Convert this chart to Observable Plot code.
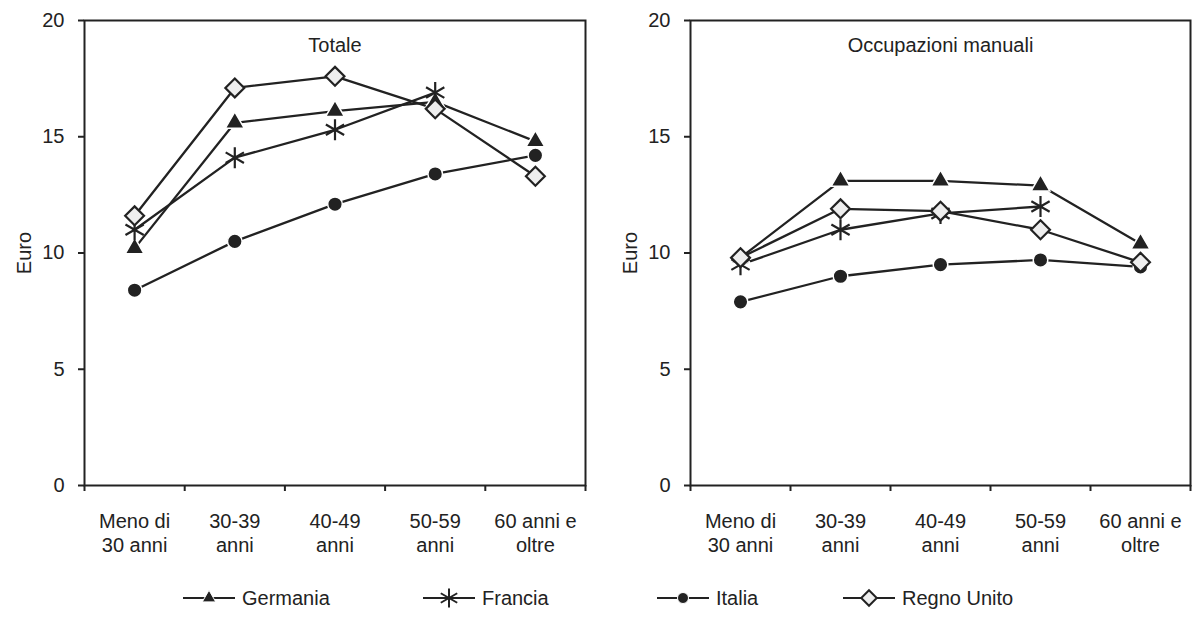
<!DOCTYPE html>
<html>
<head>
<meta charset="utf-8">
<script src="https://cdn.jsdelivr.net/npm/d3@7"></script>
<script src="https://cdn.jsdelivr.net/npm/@observablehq/plot@0.6"></script>
<style>
  body { margin: 0; background: #fff; font-family: "Liberation Sans", Arial, sans-serif; }
  #wrap { position: relative; width: 1192px; height: 635px; overflow: hidden; }
  #left, #right { position: absolute; top: 0; }
  #left { left: 0; }
  #right { left: 596px; }
  .leg { position: absolute; top: 586px; display: flex; align-items: center; font-size: 20px; color: #222; }
  .leg svg { margin-right: 6px; }
</style>
</head>
<body>
<div id="wrap">
  <div id="left"></div>
  <div id="right"></div>
  <div id="legend"></div>
</div>
<script>
const categories = ["Meno di\n30 anni", "30-39\nanni", "40-49\nanni", "50-59\nanni", "60 anni e\noltre"];
const countries = ["Germania", "Francia", "Italia", "Regno Unito"];

// Totale
const germaniaTotale = [10.2, 15.6, 16.1, 16.5, 14.8];
const franciaTotale  = [11.0, 14.1, 15.3, 16.9, null];
const italiaTotale   = [8.4, 10.5, 12.1, 13.4, 14.2];
const regnoTotale    = [11.6, 17.1, 17.6, 16.2, 13.3];

// Occupazioni manuali
const germaniaManuali = [9.8, 13.1, 13.1, 12.9, 10.4];
const franciaManuali  = [9.5, 11.0, 11.7, 12.0, null];
const italiaManuali   = [7.9, 9.0, 9.5, 9.7, 9.4];
const regnoManuali    = [9.8, 11.9, 11.8, 11.0, 9.6];

const yTicks = [0, 5, 10, 15, 20];

function rows(series) {
  const out = [];
  countries.forEach((c, k) => {
    series[k].forEach((v, i) => { if (v != null) out.push({country: c, i, v}); });
  });
  return out;
}

const ink = "#222";

function panel(title, data, opts) {
  const X = d => d.i + 0.5;
  return Plot.plot({
    width: 596,
    height: 560,
    marginTop: 20,
    marginBottom: 75,
    marginLeft: opts.marginLeft,
    marginRight: opts.marginRight,
    style: {fontSize: "20px", fontFamily: "Liberation Sans, Arial, sans-serif", color: ink, background: "#fff"},
    x: {domain: [0, categories.length]},
    y: {domain: [0, 20]},
    marks: [
      Plot.frame({stroke: ink, strokeWidth: 2}),
      Plot.axisY({ticks: yTicks, tickSize: 6, tickPadding: 14, strokeWidth: 2, label: "Euro", labelArrow: "none", labelAnchor: "center", labelOffset: opts.labelOffset, fill: ink}),
      Plot.axisX({ticks: d3.range(categories.length + 1), tickSize: 6, strokeWidth: 2, tickFormat: () => "", label: null}),
      Plot.axisX({ticks: categories.map((_, i) => i + 0.5), tickSize: 0, tickPadding: 25, lineHeight: 1.2, tickFormat: t => categories[Math.floor(t)], label: null, fill: ink}),
      Plot.text([title], {frameAnchor: "top", dy: 25, lineAnchor: "middle", fill: ink}),
      Plot.line(data, {x: X, y: "v", z: "country", stroke: ink, strokeWidth: 2.3}),
      Plot.dot(data.filter(d => d.country === "Germania"), {x: X, y: "v", symbol: "triangle", r: 7, fill: ink, stroke: "#fff", strokeWidth: 1.5}),
      Plot.dot(data.filter(d => d.country === "Francia"), {x: X, y: "v", symbol: "asterisk", r: 10, stroke: ink, strokeWidth: 2.2}),
      Plot.dot(data.filter(d => d.country === "Italia"), {x: X, y: "v", symbol: "circle", r: 7.3, fill: ink, stroke: "#fff", strokeWidth: 1.5}),
      Plot.dot(data.filter(d => d.country === "Regno Unito"), {x: X, y: "v", symbol: "diamond2", r: 8.5, fill: "#eee", stroke: ink, strokeWidth: 2.2})
    ]
  });
}

const totale = rows([germaniaTotale, franciaTotale, italiaTotale, regnoTotale]);
const manuali = rows([germaniaManuali, franciaManuali, italiaManuali, regnoManuali]);

document.getElementById("left").append(panel("Totale", totale, {marginLeft: 84, marginRight: 11, labelOffset: 68}));
document.getElementById("right").append(panel("Occupazioni manuali", manuali, {marginLeft: 94, marginRight: 2, labelOffset: 68}));

// Legend
const legendItems = [
  {name: "Germania", left: 182, sym: d3.symbolTriangle, size: Math.PI * 5 * 5, fill: ink, stroke: "#fff", sw: 1},
  {name: "Francia", left: 422, sym: d3.symbolAsterisk, size: Math.PI * 9 * 9, fill: "none", stroke: ink, sw: 2},
  {name: "Italia", left: 656, sym: d3.symbolCircle, size: Math.PI * 5.5 * 5.5, fill: ink, stroke: "#fff", sw: 1},
  {name: "Regno Unito", left: 842, sym: d3.symbolDiamond2, size: Math.PI * 7 * 7, fill: "#eee", stroke: ink, sw: 2}
];
const legend = d3.select("#legend");
legendItems.forEach(it => {
  const div = legend.append("div").attr("class", "leg").style("left", it.left + "px");
  const svg = div.append("svg").attr("width", 54).attr("height", 24);
  svg.append("line").attr("x1", 1).attr("x2", 53).attr("y1", 12).attr("y2", 12).attr("stroke", ink).attr("stroke-width", 2);
  svg.append("path").attr("transform", "translate(27,12)").attr("d", d3.symbol(it.sym, it.size)())
    .attr("fill", it.fill).attr("stroke", it.stroke).attr("stroke-width", it.sw);
  div.append("span").text(it.name);
});
</script>
</body>
</html>
